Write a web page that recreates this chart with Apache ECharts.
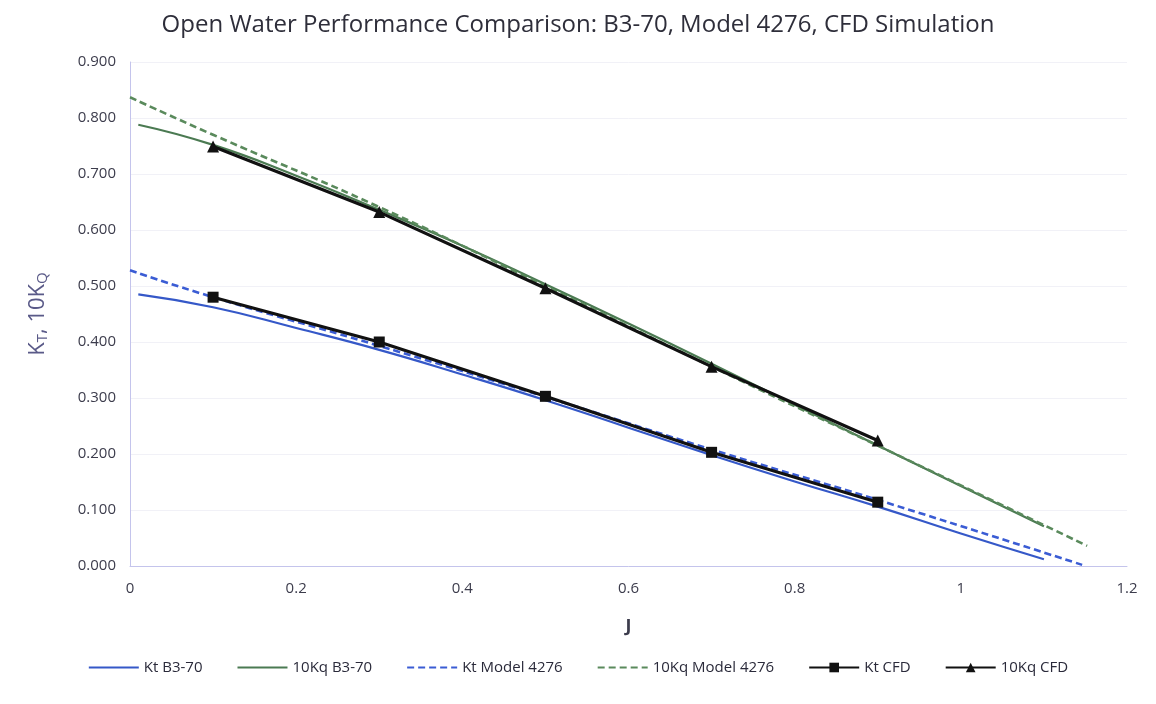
<!DOCTYPE html>
<html>
<head>
<meta charset="utf-8">
<script src="https://cdn.jsdelivr.net/npm/echarts@6/dist/echarts.min.js"></script>
<style>
html,body{margin:0;padding:0;background:#fff;}
#chart{width:1156px;height:704px;}
</style>
</head>
<body>
<div id="chart"></div>
<script>
// ---- Data ----
const titleText = 'Open Water Performance Comparison: B3-70, Model 4276, CFD Simulation';
const seriesNames = ['Kt B3-70', '10Kq B3-70', 'Kt Model 4276', '10Kq Model 4276', 'Kt CFD', '10Kq CFD'];

const ktB3J    = [0.01, 0.1, 0.2, 0.3, 0.4, 0.5, 0.6, 0.7, 0.8, 0.9, 1.0, 1.1];
const ktB3Vals = [0.485, 0.462, 0.425, 0.386, 0.342, 0.296, 0.247, 0.198, 0.151, 0.106, 0.058, 0.012];

const kqB3J    = [0.01, 0.1, 0.2, 0.3, 0.4, 0.5, 0.6, 0.7, 0.8, 0.9, 1.0, 1.1];
const kqB3Vals = [0.788, 0.752, 0.697, 0.636, 0.572, 0.503, 0.433, 0.361, 0.288, 0.215, 0.143, 0.071];

const ktModelJ    = [0, 0.1, 0.3, 0.5, 0.7, 0.9, 1.146];
const ktModelVals = [0.528, 0.48, 0.393, 0.302, 0.208, 0.118, 0.002];

const kqModelJ    = [0, 0.1, 0.3, 0.5, 0.7, 0.9, 1.152];
const kqModelVals = [0.837, 0.77, 0.641, 0.5, 0.356, 0.215, 0.036];

const cfdJ      = [0.1, 0.3, 0.5, 0.7, 0.9];
const ktCfdVals = [0.480, 0.400, 0.303, 0.203, 0.114];
const kqCfdVals = [0.749, 0.632, 0.496, 0.356, 0.224];

const xTicks = [0, 0.2, 0.4, 0.6, 0.8, 1, 1.2];

// ---- helpers ----
const pairs = (xs, ys) => xs.map((x, i) => [x, ys[i]]);

const chart = echarts.init(document.getElementById('chart'));
const axisCol = '#c4c4ec';
const labCol = '#3c3c4c';
const font = '"Open Sans", "Liberation Sans", sans-serif';
const hidden = { opacity: 0 };

chart.setOption({
  backgroundColor: '#ffffff',
  animation: false,
  title: {
    text: titleText,
    left: 'center',
    top: 8,
    textStyle: { fontFamily: font, fontSize: 24, fontWeight: 'normal', color: '#2e2e3a' }
  },
  legend: {
    bottom: 24,
    left: 'center',
    itemWidth: 50,
    itemHeight: 12,
    itemGap: 34,
    textStyle: { fontFamily: font, fontSize: 15, color: '#2a2a3a' },
    data: [
      { name: seriesNames[0], itemStyle: hidden },
      { name: seriesNames[1], itemStyle: hidden },
      { name: seriesNames[2], itemStyle: hidden },
      { name: seriesNames[3], itemStyle: hidden },
      { name: seriesNames[4] },
      { name: seriesNames[5] }
    ]
  },
  grid: { left: 130, right: 29, top: 62, bottom: 138 },
  xAxis: {
    type: 'value',
    min: 0, max: 1.2, interval: 0.2,
    name: 'J',
    nameLocation: 'middle',
    nameGap: 52,
    nameTextStyle: { fontFamily: font, fontSize: 18, fontWeight: 'bold', color: '#3c3c4c' },
    axisLine: { show: true, lineStyle: { color: axisCol, width: 1 } },
    axisTick: { show: false },
    splitLine: { show: false },
    axisLabel: {
      fontFamily: font, fontSize: 15, color: labCol, margin: 15,
      formatter: v => {
        const t = xTicks.find(tk => Math.abs(tk - v) < 1e-9);
        return t === undefined ? '' : String(t);
      }
    }
  },
  yAxis: {
    type: 'value',
    min: 0, max: 0.9, interval: 0.1,
    name: '{m|K}{s|T}{m|, 10K}{s|Q}',
    nameLocation: 'middle',
    nameGap: 80,
    nameRotate: 90,
    nameTextStyle: {
      rich: {
        m: { fontFamily: font, fontSize: 22, color: '#5a5a88' },
        s: { fontFamily: font, fontSize: 15, color: '#5a5a88', padding: [10, 0, 0, 0] }
      }
    },
    axisLine: { show: true, lineStyle: { color: axisCol, width: 1 } },
    axisTick: { show: false },
    splitLine: { show: true, lineStyle: { color: '#f1f1f7', width: 1 } },
    axisLabel: {
      fontFamily: font, fontSize: 15, color: labCol, margin: 14,
      formatter: v => v.toFixed(3)
    }
  },
  series: [
    {
      name: seriesNames[0], type: 'line', smooth: true, symbol: 'none',
      data: pairs(ktB3J, ktB3Vals),
      lineStyle: { color: '#3558c8', width: 2.2 }, itemStyle: { color: '#3558c8' }
    },
    {
      name: seriesNames[1], type: 'line', smooth: true, symbol: 'none',
      data: pairs(kqB3J, kqB3Vals),
      lineStyle: { color: '#4b7a52', width: 2.2 }, itemStyle: { color: '#4b7a52' }
    },
    {
      name: seriesNames[2], type: 'line', smooth: true, symbol: 'none',
      data: pairs(ktModelJ, ktModelVals),
      lineStyle: { color: '#3a5cd4', width: 2.6, type: [7, 4] }, itemStyle: { color: '#3a5cd4' }
    },
    {
      name: seriesNames[3], type: 'line', smooth: true, symbol: 'none',
      data: pairs(kqModelJ, kqModelVals),
      lineStyle: { color: '#5a8a5c', width: 2.6, type: [7, 4] }, itemStyle: { color: '#5a8a5c' }
    },
    {
      name: seriesNames[4], type: 'line', smooth: false,
      symbol: 'rect', symbolSize: 11, showAllSymbol: true,
      data: pairs(cfdJ, ktCfdVals),
      lineStyle: { color: '#111111', width: 3.2 }, itemStyle: { color: '#111111' }
    },
    {
      name: seriesNames[5], type: 'line', smooth: false,
      symbol: 'triangle', symbolSize: 12, showAllSymbol: true,
      data: pairs(cfdJ, kqCfdVals),
      lineStyle: { color: '#111111', width: 3.2 }, itemStyle: { color: '#111111' }
    }
  ]
});
</script>
</body>
</html>
